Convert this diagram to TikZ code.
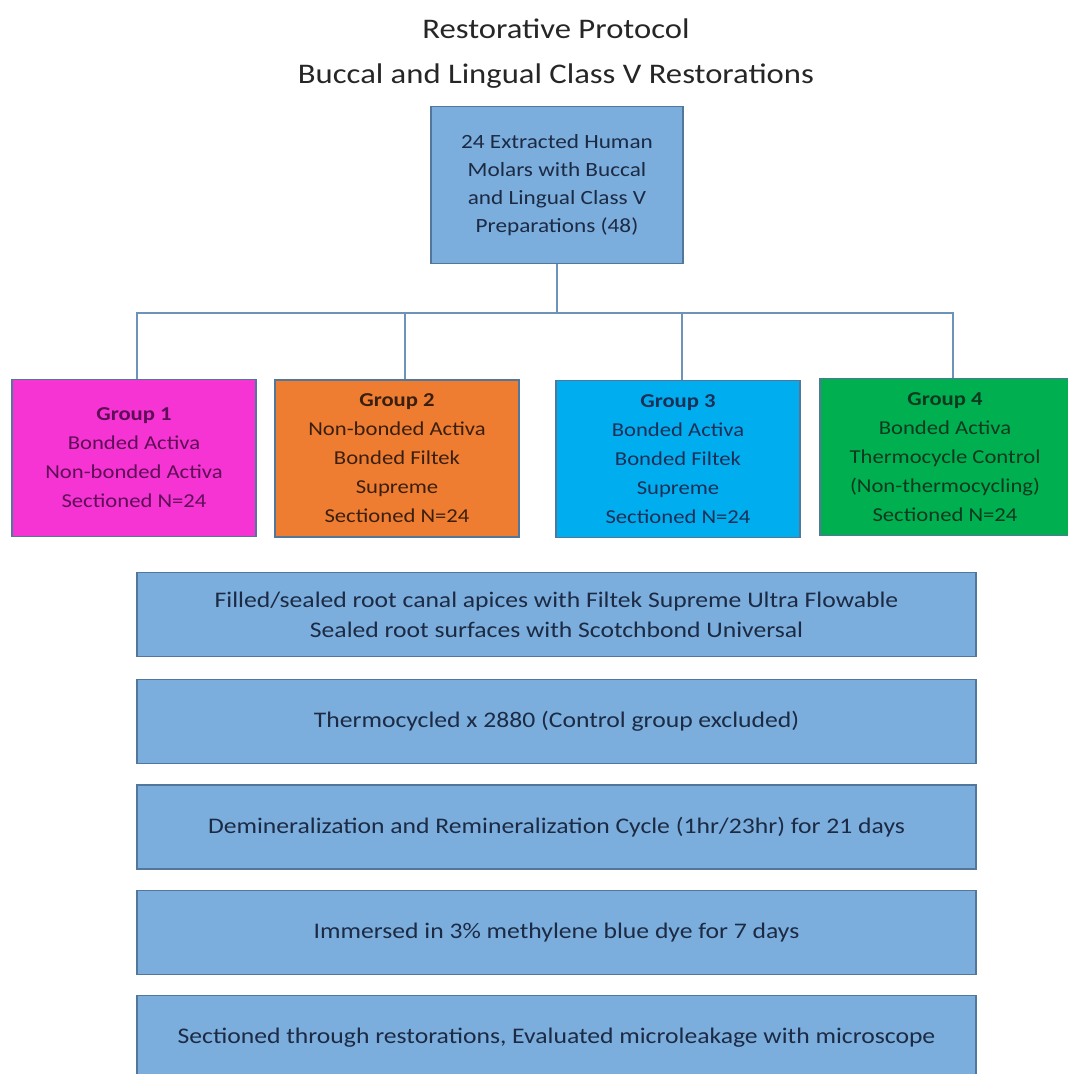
\documentclass[tikz,border=0pt]{standalone}
\usepackage{fontspec}
\setmainfont[FakeStretch=1.15]{Carlito}
\usetikzlibrary{positioning,calc}

\definecolor{stepblue}{HTML}{7BAEDC}
\definecolor{stepedge}{HTML}{53779B}
\definecolor{stepink}{HTML}{1C2A44}
\definecolor{busline}{HTML}{6E93B8}
\definecolor{grpone}{HTML}{F534D3}
\definecolor{grptwo}{HTML}{EE7D31}
\definecolor{grpthree}{HTML}{00AEEF}
\definecolor{grpfour}{HTML}{00AF50}
\definecolor{inkone}{HTML}{5E0E57}
\definecolor{inktwo}{HTML}{3B1F0E}
\definecolor{inkthree}{HTML}{1B2F57}
\definecolor{inkfour}{HTML}{0D3A1E}

\begin{document}
\begin{tikzpicture}[x=1pt, y=-1pt,
    stepbox/.style={draw=stepedge, line width=1.2pt, fill=stepblue, text=stepink,
        minimum width=839pt, minimum height=84pt, align=center,
        font=\fontsize{22.3}{30}\selectfont},
    groupbox/.style={draw=stepedge, line width=1.2pt, minimum width=244pt,
        minimum height=157pt, align=center, inner sep=0pt,
        font=\fontsize{19.7}{29}\selectfont},
    bus/.style={draw=busline, line width=2.8pt}]
\useasboundingbox (0,0) rectangle (1068,1074);
\clip (0,0) rectangle (1068,1074);

% title
\node[text=black!85, align=center, font=\fontsize{28.4}{45}\selectfont] (title) at (556,54)
    {Restorative Protocol\\Buccal and Lingual Class V Restorations};

% sample
\node[draw=stepedge, line width=1.2pt, fill=stepblue, text=stepink, minimum width=252pt,
    minimum height=157pt, align=center, font=\fontsize{20.2}{28}\selectfont] (molars) at (557,185)
    {24 Extracted Human\\Molars with Buccal\\and Lingual Class V\\Preparations (48)};

% groups
\node[groupbox, fill=grpone, text=inkone] (g1) at (134,458)
    {\textbf{Group 1}\\Bonded Activa\\Non-bonded Activa\\Sectioned N=24};
\node[groupbox, fill=grptwo, text=inktwo] (g2) at (397,458.5)
    {\textbf{Group 2}\\Non-bonded Activa\\Bonded Filtek\\Supreme\\Sectioned N=24};
\node[groupbox, fill=grpthree, text=inkthree] (g3) at (678,459)
    {\textbf{Group 3}\\Bonded Activa\\Bonded Filtek\\Supreme\\Sectioned N=24};
\node[groupbox, fill=grpfour, text=inkfour, minimum width=250pt] (g4) at (945,457)
    {\textbf{Group 4}\\Bonded Activa\\Thermocycle Control\\(Non-thermocycling)\\Sectioned N=24};

% bus
\coordinate (busa) at (137,313);
\coordinate (busb) at (405,313);
\coordinate (busc) at (682,313);
\coordinate (busd) at (953,313);
\draw[bus] (molars.south) -- (molars.south |- busa);
\draw[bus] (busa |- g1.north) -- (busa) -- (busd) -- (busd |- g4.north);
\draw[bus] (busb) -- (busb |- g2.north);
\draw[bus] (busc) -- (busc |- g3.north);

% protocol steps
\node[stepbox] (seal) at (556.5,614.5)
    {Filled/sealed root canal apices with Filtek Supreme Ultra Flowable\\Sealed root surfaces with Scotchbond Universal};
\node[stepbox, below=22pt of seal] (thermo) {Thermocycled x 2880 (Control group excluded)};
\node[stepbox, below=20pt of thermo] (demin) {Demineralization and Remineralization Cycle (1hr/23hr) for 21 days};
\node[stepbox, below=20pt of demin] (dye) {Immersed in 3\% methylene blue dye for 7 days};
\node[stepbox, below=20pt of dye] (section) {Sectioned through restorations, Evaluated microleakage with microscope};
\end{tikzpicture}
\end{document}
